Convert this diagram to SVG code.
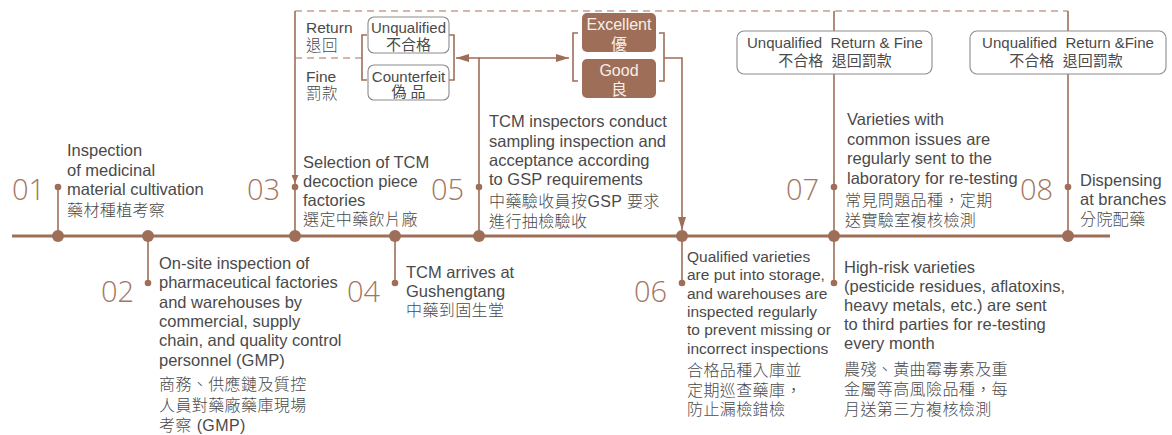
<svg xmlns="http://www.w3.org/2000/svg" width="1172" height="435" viewBox="0 0 1172 435">
<style>
.ln{stroke:#9e6e58;stroke-width:1.6;fill:none}
.tl{stroke:#9e6e58;stroke-width:3;fill:none}
.dash{stroke:#c4a08e;stroke-width:1.6;stroke-dasharray:7 5;fill:none}
.dot{fill:#9e6e58}
.box{fill:#fff;stroke:#8c8c8c;stroke-width:1.1}
.fbox{fill:#9e6e58}
.num{font-family:"Open Sans","Liberation Sans",sans-serif;font-weight:300;font-size:29px;fill:#a57560}
.t{font-family:"Liberation Sans","Noto Sans CJK TC",sans-serif;font-size:16.5px;fill:#4a4a4a}
.ts{font-family:"Liberation Sans","Noto Sans CJK TC",sans-serif;font-size:15.5px;fill:#4a4a4a}
.c{font-family:"Liberation Sans","Noto Sans CJK TC",sans-serif;font-size:16px;font-weight:300;letter-spacing:0.4px;fill:#4a4a4a}
.b{font-family:"Liberation Sans","Noto Sans CJK TC",sans-serif;font-size:15px;fill:#4a4a4a;text-anchor:middle;white-space:pre}
.w{font-family:"Liberation Sans","Noto Sans CJK TC",sans-serif;font-size:16px;fill:#f6eee9;text-anchor:middle}
</style>
<defs>
<marker id="arr" viewBox="0 0 13 8" refX="13" refY="4" markerWidth="13" markerHeight="8" markerUnits="userSpaceOnUse" orient="auto"><path d="M0,0 L13,4 L0,8 z" fill="#9e6e58"/></marker>
<marker id="arrs" viewBox="0 0 8 7" refX="8" refY="3.5" markerWidth="8" markerHeight="7" markerUnits="userSpaceOnUse" orient="auto"><path d="M0,0 L8,3.5 L0,7 z" fill="#9e6e58"/></marker>
</defs>
<rect width="1172" height="435" fill="#fff"/>

<g id="connectors">
<line class="tl" x1="12" y1="236" x2="1110" y2="236"/>
<path class="dash" d="M295,11 H1068"/>
<path class="dash" d="M295,58 H362"/>
<path class="ln" d="M295,11 V183" marker-end="url(#arrs)"/>
<path class="ln" d="M295,183 V236"/>
<path class="ln" d="M367,35 H362 V80 H367"/>
<path class="ln" d="M449,35 H454 V80 H449"/>
<path class="ln" d="M479,236 V58 H456" marker-end="url(#arr)"/>
<path class="ln" d="M479,58 H569" marker-end="url(#arr)"/>
<path class="ln" d="M578,33 H573 V81 H578"/>
<path class="ln" d="M659,33 H664 V81 H659"/>
<path class="ln" d="M664,58 H682 V230" marker-end="url(#arr)"/>
<path class="ln" d="M682,236 V283"/>
<path class="ln" d="M58,187 V236"/>
<path class="ln" d="M148,236 V283"/>
<path class="ln" d="M395,236 V283"/>
<path class="ln" d="M834,11 V31"/>
<path class="ln" d="M834,74 V283"/>
<path class="ln" d="M1068,11 V31"/>
<path class="ln" d="M1068,74 V236"/>
</g>

<g id="dots">
<circle class="dot" cx="58" cy="236" r="6"/>
<circle class="dot" cx="148" cy="236" r="6"/>
<circle class="dot" cx="295" cy="236" r="6"/>
<circle class="dot" cx="395" cy="236" r="6"/>
<circle class="dot" cx="479" cy="236" r="6"/>
<circle class="dot" cx="682" cy="236" r="6"/>
<circle class="dot" cx="834" cy="236" r="6"/>
<circle class="dot" cx="1068" cy="236" r="6"/>
<circle class="dot" cx="58" cy="187" r="3.3"/>
<circle class="dot" cx="295" cy="187" r="3.3"/>
<circle class="dot" cx="479" cy="187" r="3.3"/>
<circle class="dot" cx="834" cy="187" r="3.3"/>
<circle class="dot" cx="1068" cy="187" r="3.3"/>
<circle class="dot" cx="148" cy="283" r="3.3"/>
<circle class="dot" cx="395" cy="283" r="3.3"/>
<circle class="dot" cx="682" cy="283" r="3.3"/>
<circle class="dot" cx="834" cy="283" r="3.3"/>
</g>

<g id="step01">
<text class="num" x="12" y="200">01</text>
<text class="t"><tspan x="67" y="156">Inspection</tspan><tspan x="67" y="175.5">of medicinal</tspan><tspan x="67" y="195">material cultivation</tspan></text>
<text class="c" x="67" y="216">藥材種植考察</text>
</g>

<g id="step02">
<text class="num" x="101" y="302">02</text>
<text class="t"><tspan x="159" y="269">On-site inspection of</tspan><tspan x="159" y="288">pharmaceutical factories</tspan><tspan x="159" y="307.5">and warehouses by</tspan><tspan x="159" y="327">commercial, supply</tspan><tspan x="159" y="346">chain, and quality control</tspan><tspan x="159" y="365.5">personnel (GMP)</tspan></text>
<text class="c"><tspan x="159" y="390">商務、供應鏈及質控</tspan><tspan x="159" y="410.5">人員對藥廠藥庫現場</tspan><tspan x="159" y="431">考察 (GMP)</tspan></text>
</g>

<g id="step03">
<text class="num" x="247" y="200">03</text>
<text class="t"><tspan x="303" y="168">Selection of TCM</tspan><tspan x="303" y="187">decoction piece</tspan><tspan x="303" y="206">factories</tspan></text>
<text class="c" x="303" y="225">選定中藥飲片廠</text>
</g>

<g id="step04">
<text class="num" x="347" y="302">04</text>
<text class="t"><tspan x="406" y="278">TCM arrives at</tspan><tspan x="406" y="297">Gushengtang</tspan></text>
<text class="c" x="406" y="316">中藥到固生堂</text>
</g>

<g id="step05">
<text class="num" x="431" y="200">05</text>
<text class="t"><tspan x="489" y="127">TCM inspectors conduct</tspan><tspan x="489" y="146.5">sampling inspection and</tspan><tspan x="489" y="166">acceptance according</tspan><tspan x="489" y="185">to GSP requirements</tspan></text>
<text class="c"><tspan x="489" y="207">中藥驗收員按GSP 要求</tspan><tspan x="489" y="227">進行抽檢驗收</tspan></text>
</g>

<g id="step06">
<text class="num" x="634" y="302">06</text>
<text class="ts"><tspan x="687" y="262">Qualified varieties</tspan><tspan x="687" y="280">are put into storage,</tspan><tspan x="687" y="298.5">and warehouses are</tspan><tspan x="687" y="317">inspected regularly</tspan><tspan x="687" y="335">to prevent missing or</tspan><tspan x="687" y="353.5">incorrect inspections</tspan></text>
<text class="c"><tspan x="687" y="376">合格品種入庫並</tspan><tspan x="687" y="396">定期巡查藥庫，</tspan><tspan x="687" y="415">防止漏檢錯檢</tspan></text>
</g>

<g id="step07">
<text class="num" x="786" y="200">07</text>
<text class="t"><tspan x="847" y="125">Varieties with</tspan><tspan x="847" y="144.5">common issues are</tspan><tspan x="847" y="164">regularly sent to the</tspan><tspan x="847" y="183.5">laboratory for re-testing</tspan></text>
<text class="c"><tspan x="845" y="206">常見問題品種，定期</tspan><tspan x="845" y="226">送實驗室複核檢測</tspan></text>
<text class="t"><tspan x="844" y="273">High-risk varieties</tspan><tspan x="844" y="292">(pesticide residues, aflatoxins,</tspan><tspan x="844" y="311">heavy metals, etc.) are sent</tspan><tspan x="844" y="330">to third parties for re-testing</tspan><tspan x="844" y="349">every month</tspan></text>
<text class="c"><tspan x="844" y="375">農殘、黃曲霉毒素及重</tspan><tspan x="844" y="395">金屬等高風險品種，每</tspan><tspan x="844" y="415">月送第三方複核檢測</tspan></text>
</g>

<g id="step08">
<text class="num" x="1020" y="200">08</text>
<text class="t"><tspan x="1080" y="186">Dispensing</tspan><tspan x="1080" y="205">at branches</tspan></text>
<text class="c" x="1080" y="225">分院配藥</text>
</g>

<g id="labels-return-fine">
<text class="t" style="font-size:15.5px"><tspan x="306" y="33">Return</tspan><tspan x="306" y="82">Fine</tspan></text>
<text class="c" style="font-size:15.5px"><tspan x="306" y="51">退回</tspan><tspan x="306" y="99">罰款</tspan></text>
</g>

<g id="box-unqualified">
<rect class="box" x="368" y="17" width="81" height="36" rx="6"/>
<text class="b" x="408.5" y="33">Unqualified</text>
<text class="b" x="408.5" y="50">不合格</text>
</g>

<g id="box-counterfeit">
<rect class="box" x="368" y="65" width="81" height="35" rx="6"/>
<text class="b" x="408.5" y="82">Counterfeit</text>
<text class="b" x="408.5" y="97">偽 品</text>
</g>

<g id="box-excellent">
<rect class="fbox" x="582" y="13" width="74" height="39" rx="5"/>
<text class="w" x="619" y="30">Excellent</text>
<text class="w" x="619" y="50">優</text>
</g>

<g id="box-good">
<rect class="fbox" x="582" y="59" width="74" height="39" rx="5"/>
<text class="w" x="619" y="76">Good</text>
<text class="w" x="619" y="95">良</text>
</g>

<g id="box-fine-07">
<rect class="box" x="737" y="31" width="195" height="43" rx="7"/>
<text class="b" x="835" y="48">Unqualified  Return &amp; Fine</text>
<text class="b" x="835" y="66">不合格  退回罰款</text>
</g>

<g id="box-fine-08">
<rect class="box" x="970" y="31" width="196" height="43" rx="7"/>
<text class="b" x="1068" y="48">Unqualified  Return &amp;Fine</text>
<text class="b" x="1066" y="66">不合格  退回罰款</text>
</g>
</svg>
